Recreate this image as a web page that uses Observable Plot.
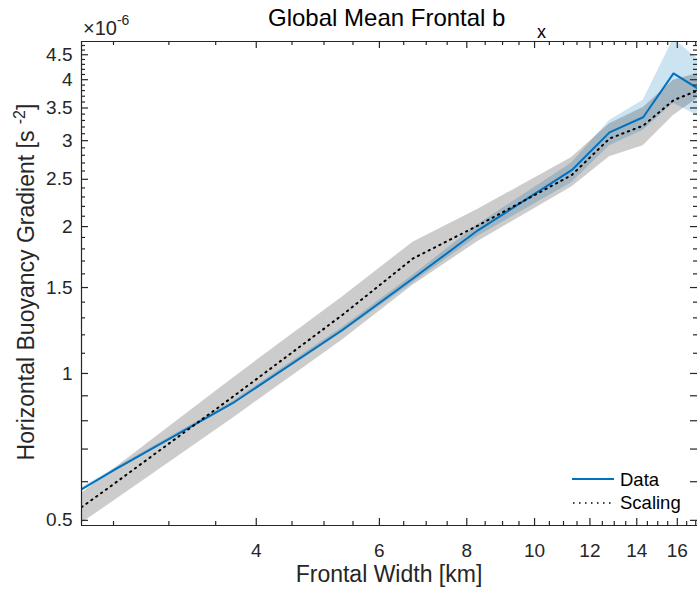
<!DOCTYPE html>
<html><head><meta charset="utf-8">
<script src="https://cdn.jsdelivr.net/npm/d3@7"></script>
<script src="https://cdn.jsdelivr.net/npm/@observablehq/plot@0.6"></script>
<style>html,body{margin:0;padding:0;background:#fff}#chart svg{display:block}</style>
</head><body><div id="chart"></div>
<script>
// Frontal width [km]
const frontalWidth = [2.25, 2.5, 3.7, 5.3, 6.7, 8.3, 11.3, 12.8, 14.3, 15.8, 17.1];
// Data (×1e-6 s^-2)
const dataMean = [0.579, 0.633, 0.869, 1.225, 1.565, 1.965, 2.61, 3.12, 3.35, 4.12, 3.84];
const dataLo   = [0.575, 0.629, 0.862, 1.210, 1.535, 1.910, 2.46, 2.93, 3.15, 3.58, 3.38];
const dataHi   = [0.583, 0.637, 0.876, 1.240, 1.590, 2.020, 2.70, 3.30, 3.63, 4.85, 4.42];
// Scaling (×1e-6 s^-2)
const scalingMean = [0.532, 0.593, 0.895, 1.315, 1.72, 2.01, 2.55, 3.03, 3.22, 3.63, 3.80];
const scalingLo   = [0.493, 0.547, 0.809, 1.169, 1.516, 1.865, 2.41, 2.78, 2.93, 3.38, 3.66];
const scalingHi   = [0.568, 0.636, 0.977, 1.432, 1.857, 2.17, 2.77, 3.25, 3.51, 3.99, 4.12];

// Ticks
const xTickLabels = [4, 6, 8, 10, 12, 14, 16];
const xMinorTicks = [2.5, 3, 3.5, 4.5, 5, 5.5, 6.5, 7, 7.5, 8.5, 9, 9.5, 10.5, 11, 11.5, 12.5, 13, 13.5, 14.5, 15, 15.5, 16.5, 17];
const yTickLabels = [0.5, 1, 1.5, 2, 2.5, 3, 3.5, 4, 4.5];
const yUnlabeledMajor = [0.6, 0.7, 0.8, 0.9];
const yMinorTicks = [1.1,1.2,1.3,1.4,1.6,1.7,1.8,1.9,2.1,2.2,2.3,2.4,2.6,2.7,2.8,2.9,3.1,3.2,3.3,3.4,3.6,3.7,3.8,3.9,4.1,4.2,4.3,4.4,4.6,4.7];

const xDomain = [2.25, 17.1];
const yDomain = [0.488, 4.79];

const rows = frontalWidth.map((w, i) => ({
  w, d: dataMean[i], dlo: dataLo[i], dhi: dataHi[i],
  s: scalingMean[i], slo: scalingLo[i], shi: scalingHi[i]
}));

const W = 697, H = 591, mt = 41, mb = 66, ml = 81, mr = 0;
const innerH = H - mt - mb, innerW = W - ml - mr;
const axisColor = "#262626";
const majorLen = 7, minorLen = 4;

const plot = Plot.plot({
  width: W, height: H,
  marginTop: mt, marginBottom: mb, marginLeft: ml, marginRight: mr,
  style: {fontFamily: "'Liberation Sans', Arial, Helvetica, sans-serif", fontSize: "19px", color: axisColor, background: "#fff"},
  x: {type: "log", domain: xDomain},
  y: {type: "log", domain: yDomain},
  marks: [
    Plot.areaY(rows, {x: "w", y1: "dlo", y2: "dhi", fill: "#0072BD", fillOpacity: 0.2, clip: true}),
    Plot.areaY(rows, {x: "w", y1: "slo", y2: "shi", fill: "#000", fillOpacity: 0.2, clip: true}),
    Plot.line(rows, {x: "w", y: "d", stroke: "#0072BD", strokeWidth: 2, clip: true}),
    Plot.line(rows, {x: "w", y: "s", stroke: "#000", strokeWidth: 2, strokeDasharray: "1.3 4.7", clip: true}),
    // box (left, bottom, top)
    Plot.ruleX([xDomain[0]], {stroke: axisColor, strokeWidth: 1.2}),
    Plot.ruleY([yDomain[0]], {stroke: axisColor, strokeWidth: 1.2}),
    Plot.ruleY([yDomain[1]], {stroke: axisColor, strokeWidth: 1.2}),
    // inward ticks, bottom & top
    Plot.tickX(xTickLabels, {x: d => d, insetTop: innerH - majorLen, stroke: axisColor, strokeWidth: 1.2}),
    Plot.tickX(xTickLabels, {x: d => d, insetBottom: innerH - majorLen, stroke: axisColor, strokeWidth: 1.2}),
    Plot.tickX(xMinorTicks, {x: d => d, insetTop: innerH - minorLen, stroke: axisColor, strokeWidth: 1.2}),
    Plot.tickX(xMinorTicks, {x: d => d, insetBottom: innerH - minorLen, stroke: axisColor, strokeWidth: 1.2}),
    // inward ticks, left & right
    Plot.tickY(yTickLabels.concat(yUnlabeledMajor), {y: d => d, insetRight: innerW - majorLen, stroke: axisColor, strokeWidth: 1.2}),
    Plot.tickY(yTickLabels.concat(yUnlabeledMajor), {y: d => d, insetLeft: innerW - majorLen, stroke: axisColor, strokeWidth: 1.2}),
    Plot.tickY(yMinorTicks, {y: d => d, insetRight: innerW - minorLen, stroke: axisColor, strokeWidth: 1.2}),
    Plot.tickY(yMinorTicks, {y: d => d, insetLeft: innerW - minorLen, stroke: axisColor, strokeWidth: 1.2}),
    Plot.axisX({anchor: "bottom", ticks: xTickLabels, tickSize: 0, tickPadding: 18, tickFormat: d => String(d), label: null, fontSize: 19}),
    Plot.axisY({anchor: "left", ticks: yTickLabels, tickSize: 0, tickPadding: 9, tickFormat: d => String(d), label: null, fontSize: 19})
  ]
});

document.getElementById("chart").appendChild(plot);

const svg = d3.select(plot);
const ff = "'Liberation Sans', Arial, Helvetica, sans-serif";

// Title
const title = svg.append("text").attr("x", 268).attr("y", 26).attr("text-anchor", "start")
  .attr("font-family", ff).attr("font-size", 24).attr("fill", "#000");
title.append("tspan").text("Global Mean Frontal b");
title.append("tspan").attr("x", 537).attr("y", 38).attr("font-size", 18).text("x");

// Exponent
const ex = svg.append("text").attr("x", 83).attr("y", 35).attr("text-anchor", "start")
  .attr("font-family", ff).attr("font-size", 20).attr("fill", axisColor);
ex.append("tspan").text("×10");
ex.append("tspan").attr("dy", -10).attr("font-size", 14).text("-6");

// X label
svg.append("text").attr("x", 389).attr("y", 582).attr("text-anchor", "middle")
  .attr("font-family", ff).attr("font-size", 23).attr("fill", axisColor)
  .text("Frontal Width [km]");

// Y label
const yl = svg.append("text").attr("transform", "translate(34,282) rotate(-90)")
  .attr("text-anchor", "middle").attr("font-family", ff).attr("font-size", 23).attr("fill", axisColor);
yl.append("tspan").text("Horizontal Buoyancy Gradient [s ");
yl.append("tspan").attr("dy", -9).attr("font-size", 16).text("-2");
yl.append("tspan").attr("dy", 9).text("]");

// Legend
const lg = svg.append("g").attr("font-family", ff).attr("font-size", 18.5).attr("fill", "#000").attr("text-anchor", "start");
lg.append("line").attr("x1", 572).attr("x2", 614).attr("y1", 479).attr("y2", 479)
  .attr("stroke", "#0072BD").attr("stroke-width", 2);
lg.append("text").attr("x", 620).attr("y", 486).text("Data");
lg.append("line").attr("x1", 573).attr("x2", 614).attr("y1", 503).attr("y2", 503)
  .attr("stroke", "#000").attr("stroke-width", 1.5).attr("stroke-dasharray", "1.5 4.5");
lg.append("text").attr("x", 620).attr("y", 509).text("Scaling");
</script>
</body></html>
